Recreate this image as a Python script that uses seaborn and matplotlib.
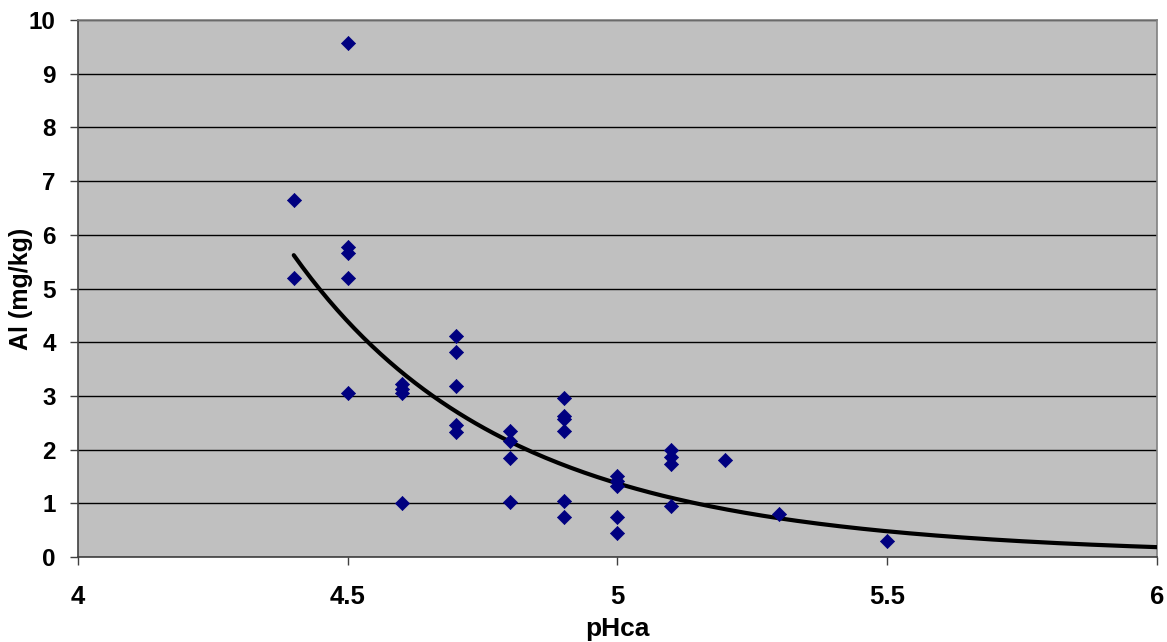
import numpy as np
import pandas as pd
import matplotlib
matplotlib.use('Agg')
import matplotlib.pyplot as plt
import seaborn as sns

# values
ph = [4.4, 4.4,
      4.5, 4.5, 4.5, 4.5, 4.5,
      4.6, 4.6, 4.6, 4.6,
      4.7, 4.7, 4.7, 4.7, 4.7,
      4.8, 4.8, 4.8, 4.8,
      4.9, 4.9, 4.9, 4.9, 4.9, 4.9,
      5.0, 5.0, 5.0, 5.0, 5.0,
      5.1, 5.1, 5.1, 5.1,
      5.2, 5.3, 5.5]
al = [6.64, 5.20,
      9.57, 5.78, 5.67, 5.20, 3.05,
      3.23, 3.13, 3.05, 1.00,
      4.11, 3.81, 3.18, 2.45, 2.32,
      2.35, 2.16, 1.84, 1.02,
      2.96, 2.62, 2.57, 2.34, 1.04, 0.74,
      1.51, 1.41, 1.32, 0.74, 0.45,
      2.00, 1.86, 1.73, 0.95,
      1.80, 0.80, 0.30]
x_ticks = [4, 4.5, 5, 5.5, 6]
x_tick_labels = ['4', '4.5', '5', '5.5', '6']

df = pd.DataFrame({'pHca': ph, 'Al': al})

# power trendline (like Excel), fitted on log-log
b, log_a = np.polyfit(np.log(df['pHca']), np.log(df['Al']), 1)
x_fit = np.linspace(4.4, 6.0, 200)
y_fit = np.exp(log_a) * x_fit ** b

sns.set_style('ticks')
plt.rcParams['font.family'] = ['Liberation Sans', 'DejaVu Sans']

fig = plt.figure(figsize=(11.67, 6.42), dpi=100)
ax = fig.add_axes([0.0668, 0.1324, 0.9246, 0.8364])
ax.set_facecolor('#C0C0C0')

sns.lineplot(x=x_fit, y=y_fit, ax=ax, color='black', linewidth=3.0, zorder=3)
sns.scatterplot(data=df, x='pHca', y='Al', ax=ax, marker='D', s=52,
                color='#000080', edgecolor='#000080', linewidth=0.5, zorder=4)

ax.set_xlim(4, 6)
ax.set_ylim(0, 10)
ax.set_xticks(x_ticks)
ax.set_xticklabels(x_tick_labels)
ax.set_yticks(range(0, 11))
ax.yaxis.grid(True, color='black', linewidth=1.0)
ax.xaxis.grid(False)
ax.set_axisbelow(True)

for side in ['left', 'bottom', 'right', 'top']:
    ax.spines[side].set_color('#808080')
    ax.spines[side].set_linewidth(1.2)
ax.spines['left'].set_color('#404040')
ax.spines['bottom'].set_color('#404040')
ax.tick_params(axis='both', direction='out', length=6, width=1, color='#404040',
               labelcolor='black')
ax.tick_params(axis='x', pad=14, labelsize=18.5)
ax.tick_params(axis='y', pad=10, labelsize=17.5)
for lbl in ax.get_xticklabels() + ax.get_yticklabels():
    lbl.set_fontweight('bold')

ax.set_xlabel('pHca', fontsize=19, fontweight='bold', color='black')
ax.set_ylabel('Al (mg/kg)', fontsize=18, fontweight='bold', color='black')
ax.xaxis.set_label_coords(0.5, -0.134)
ax.xaxis.label.set_va('center')
ax.yaxis.set_label_coords(-0.053, 0.5)
ax.yaxis.label.set_va('center')

fig.savefig('out.png', dpi=100)
